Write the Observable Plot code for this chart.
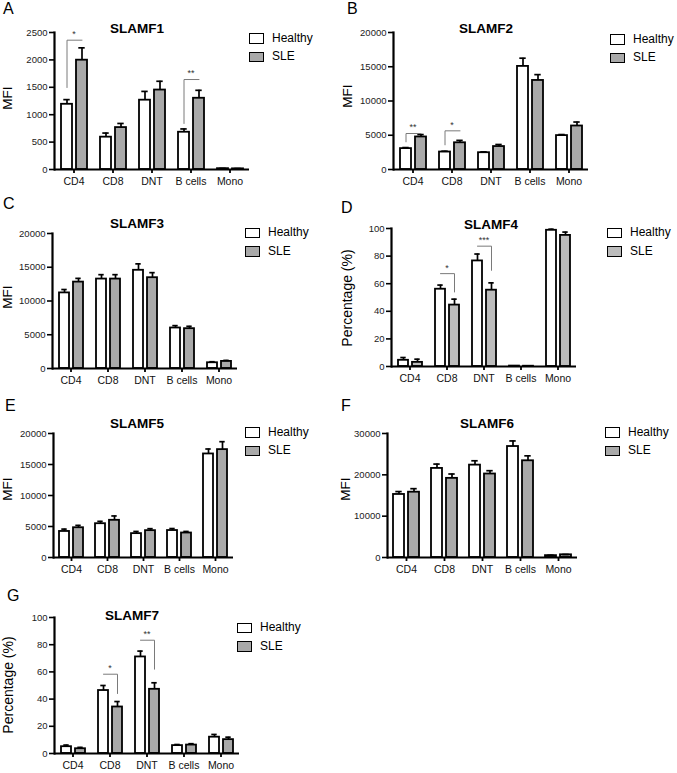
<!DOCTYPE html>
<html>
<head>
<meta charset="utf-8">
<script src="https://cdn.jsdelivr.net/npm/d3@7"></script>
<script src="https://cdn.jsdelivr.net/npm/@observablehq/plot@0.6"></script>
<style>
  html, body { margin: 0; padding: 0; background: #fff; }
  body { font-family: Arial, "Liberation Sans", Helvetica, sans-serif; color: #000; }
  #fig { position: relative; width: 677px; height: 773px; overflow: hidden; background: #fff; }
  .abs { position: absolute; white-space: nowrap; }
  .swatch { position: absolute; box-sizing: border-box; border: 1.8px solid #000; }
</style>
</head>
<body>
<div id="fig"></div>
<script>
// ---------- data ----------
const cells = ["CD4", "CD8", "DNT", "B cells", "Mono"];
const groups = ["Healthy", "SLE"];

// SLAMF1 (MFI)
const f1Healthy = [1190, 590, 1265, 680, 15];
const f1HealthyErr = [85, 75, 160, 60, 5];
const f1SLE = [1995, 765, 1450, 1300, 12];
const f1SLEErr = [225, 75, 160, 145, 5];
const f1Ticks = [0, 500, 1000, 1500, 2000, 2500];
const f1SigCells = ["CD4", "B cells"];
const f1SigLabels = ["*", "**"];
const f1SigSide = ["Healthy", "Healthy"];
const f1SigLow = [1496, 840];
const f1SigHigh = [2360, 1642];

// SLAMF2 (MFI)
const f2Healthy = [3050, 2550, 2450, 15050, 4950];
const f2HealthyErr = [150, 120, 120, 1200, 150];
const f2SLE = [4750, 3900, 3350, 13000, 6350];
const f2SLEErr = [350, 350, 300, 850, 580];
const f2Ticks = [0, 5000, 10000, 15000, 20000];
const f2SigCells = ["CD4", "CD8"];
const f2SigLabels = ["**", "*"];
const f2SigSide = ["Healthy", "Healthy"];
const f2SigLow = [4039, 3600];
const f2SigHigh = [5255, 5645];

// SLAMF3 (MFI)
const f3Healthy = [11200, 13250, 14550, 6000, 850];
const f3HealthyErr = [500, 650, 950, 350, 150];
const f3SLE = [12800, 13250, 13450, 5900, 1050];
const f3SLEErr = [550, 650, 750, 350, 150];
const f3Ticks = [0, 5000, 10000, 15000, 20000];

// SLAMF4 (percentage)
const f4Healthy = [4.5, 56, 76.5, 0.3, 98.7];
const f4HealthyErr = [2, 3, 5, 0.1, 0.8];
const f4SLE = [3, 44.5, 55.3, 0.2, 95];
const f4SLEErr = [2.3, 4.3, 5.3, 0.1, 2.4];
const f4Ticks = [0, 20, 40, 60, 80, 100];
const f4SigCells = ["CD8", "DNT"];
const f4SigLabels = ["*", "***"];
const f4SigSide = ["SLE", "SLE"];
const f4SigLow = [54, 69.7];
const f4SigHigh = [67.3, 87.2];

// SLAMF5 (MFI)
const f5Healthy = [4200, 5450, 3850, 4350, 16700];
const f5HealthyErr = [380, 380, 350, 320, 800];
const f5SLE = [4800, 6000, 4330, 3950, 17400];
const f5SLEErr = [380, 700, 320, 250, 1280];
const f5Ticks = [0, 5000, 10000, 15000, 20000];

// SLAMF6 (MFI)
const f6Healthy = [15250, 21550, 22350, 26850, 450];
const f6HealthyErr = [700, 1050, 1050, 1350, 80];
const f6SLE = [15800, 19150, 20200, 23400, 650];
const f6SLEErr = [850, 1050, 800, 1200, 80];
const f6Ticks = [0, 10000, 20000, 30000];

// SLAMF7 (percentage)
const f7Healthy = [5, 46.3, 71, 5.8, 12];
const f7HealthyErr = [1.2, 3.7, 4.3, 0.8, 2];
const f7SLE = [3.5, 34.2, 47.2, 6.2, 10.2];
const f7SLEErr = [1, 4, 4.8, 1, 1.8];
const f7Ticks = [0, 20, 40, 60, 80, 100];
const f7SigCells = ["CD8", "DNT"];
const f7SigLabels = ["*", "**"];
const f7SigSide = ["SLE", "SLE"];
const f7SigLow = [44.1, 62];
const f7SigHigh = [58.3, 83.3];

// ---------- layout ----------
const FONT = 'Arial, "Liberation Sans", Helvetica, sans-serif';
const panels = [
  {letter: "A", title: "SLAMF1", ylabel: "MFI", h: f1Healthy, he: f1HealthyErr, s: f1SLE, se: f1SLEErr, ticks: f1Ticks,
   sig: [f1SigCells, f1SigLabels, f1SigSide, f1SigLow, f1SigHigh],
   x: 0, y: 0, w: 338, axisX: 52, xEnd: 250, yTop: 32, y0: 169, gray: "#a9a9a9",
   letterPos: [3, 15], titlePos: [137, 33], ylabPos: [8, 98], legend: [249, 42]},
  {letter: "B", title: "SLAMF2", ylabel: "MFI", h: f2Healthy, he: f2HealthyErr, s: f2SLE, se: f2SLEErr, ticks: f2Ticks,
   sig: [f2SigCells, f2SigLabels, f2SigSide, f2SigLow, f2SigHigh],
   x: 340, y: 0, w: 337, axisX: 392, xEnd: 588, yTop: 32, y0: 169, gray: "#a9a9a9",
   letterPos: [347, 15], titlePos: [486, 33], ylabPos: [348, 96], legend: [610, 43]},
  {letter: "C", title: "SLAMF3", ylabel: "MFI", h: f3Healthy, he: f3HealthyErr, s: f3SLE, se: f3SLEErr, ticks: f3Ticks,
   sig: null,
   x: 0, y: 190, w: 338, axisX: 52, xEnd: 237, yTop: 233, y0: 368, gray: "#a9a9a9",
   letterPos: [3, 210], titlePos: [137, 228], ylabPos: [8, 297], legend: [245, 236.5]},
  {letter: "D", title: "SLAMF4", ylabel: "Percentage (%)", h: f4Healthy, he: f4HealthyErr, s: f4SLE, se: f4SLEErr, ticks: f4Ticks,
   sig: [f4SigCells, f4SigLabels, f4SigSide, f4SigLow, f4SigHigh],
   x: 340, y: 190, w: 337, axisX: 389, xEnd: 577, yTop: 228, y0: 366, gray: "#bcbcbc",
   letterPos: [341, 214], titlePos: [491, 229], ylabPos: [347, 298], legend: [607, 236.5]},
  {letter: "E", title: "SLAMF5", ylabel: "MFI", h: f5Healthy, he: f5HealthyErr, s: f5SLE, se: f5SLEErr, ticks: f5Ticks,
   sig: null,
   x: 0, y: 380, w: 338, axisX: 52, xEnd: 233, yTop: 433, y0: 557, gray: "#a9a9a9",
   letterPos: [5, 412], titlePos: [137, 428], ylabPos: [8, 489], legend: [245, 436]},
  {letter: "F", title: "SLAMF6", ylabel: "MFI", h: f6Healthy, he: f6HealthyErr, s: f6SLE, se: f6SLEErr, ticks: f6Ticks,
   sig: null,
   x: 340, y: 380, w: 337, axisX: 387, xEnd: 577, yTop: 433, y0: 557, gray: "#a9a9a9",
   letterPos: [341, 412], titlePos: [487, 428], ylabPos: [346, 489], legend: [605, 436]},
  {letter: "G", title: "SLAMF7", ylabel: "Percentage (%)", h: f7Healthy, he: f7HealthyErr, s: f7SLE, se: f7SLEErr, ticks: f7Ticks,
   sig: [f7SigCells, f7SigLabels, f7SigSide, f7SigLow, f7SigHigh],
   x: 0, y: 570, w: 338, axisX: 52, xEnd: 241, yTop: 617, y0: 753, gray: "#a9a9a9",
   letterPos: [7, 602], titlePos: [132, 620], ylabPos: [8, 685], legend: [237, 631.5]}
];

// ---------- builders ----------
function rows(h, he, s, se) {
  return cells.flatMap((c, i) => [
    {cell: c, group: "Healthy", value: h[i], err: he[i]},
    {cell: c, group: "SLE", value: s[i], err: se[i]}
  ]);
}
function sigRows(sig) {
  if (!sig) return [];
  const [sc, sl, side, lo, hi] = sig;
  return sc.map((c, i) => ({id: i, cell: c, label: sl[i], side: side[i], low: lo[i], high: hi[i]}));
}
function bracketPoints(sr) {
  return sr.flatMap(s => s.side === "Healthy"
    ? [{id: s.id, cell: s.cell, group: "Healthy", y: s.low},
       {id: s.id, cell: s.cell, group: "Healthy", y: s.high},
       {id: s.id, cell: s.cell, group: "SLE", y: s.high}]
    : [{id: s.id, cell: s.cell, group: "Healthy", y: s.high},
       {id: s.id, cell: s.cell, group: "SLE", y: s.high},
       {id: s.id, cell: s.cell, group: "SLE", y: s.low}]);
}

const fig = document.getElementById("fig");

function addText(txt, x, baseline, fs, extra = "", center = false) {
  const d = document.createElement("div");
  d.className = "abs";
  d.textContent = txt;
  d.style.cssText += `left:${x}px;top:${baseline - 0.846 * fs}px;font-size:${fs}px;line-height:${fs}px;${extra}` +
    (center ? "transform:translateX(-50%);" : "");
  fig.appendChild(d);
}
function addYLabel(txt, cx, cy, fs) {
  const d = document.createElement("div");
  d.className = "abs";
  d.textContent = txt;
  d.style.cssText += `left:${cx}px;top:${cy}px;font-size:${fs}px;line-height:${fs}px;transform:translate(-50%,-50%) rotate(-90deg);`;
  fig.appendChild(d);
}
function addLegend(rx, b1, gray) {
  [["Healthy", "#ffffff"], ["SLE", gray]].forEach(([name, col], i) => {
    const b = b1 + i * 18.5;
    const sw = document.createElement("div");
    sw.className = "swatch";
    sw.style.cssText += `left:${rx}px;top:${b - 9}px;width:15px;height:10.5px;background:${col};`;
    fig.appendChild(sw);
    addText(name, rx + 23, b, 12);
  });
}

function makeChart(p) {
  const W = p.w;
  const H = p.y0 - p.y + 26;
  const data = rows(p.h, p.he, p.s, p.se);
  const sr = sigRows(p.sig);
  const marks = [
    Plot.barY(data, {fx: "cell", x: "group", y: "value", fill: "group", stroke: "#000", strokeWidth: 1.8}),
    Plot.ruleX(data, {fx: "cell", x: "group", y1: "value", y2: d => d.value + d.err, stroke: "#000", strokeWidth: 1.7}),
    Plot.tickY(data, {fx: "cell", x: "group", y: d => d.value + d.err, stroke: "#000", strokeWidth: 1.7, insetLeft: 2.3, insetRight: 2.3}),
    Plot.ruleY([0], {stroke: "#000", strokeWidth: 2.2}),
    Plot.frame({anchor: "left", facetAnchor: "left", stroke: "#000", strokeWidth: 2.2}),
    Plot.axisY({ticks: p.ticks, tickFormat: d => String(d), tickSize: 5, tickPadding: 2, strokeWidth: 1.6,
                fontSize: 9.5, fill: "#222", label: null}),
    Plot.axisFx({anchor: "bottom", tickSize: 4, tickPadding: 4, strokeWidth: 1.8, fontSize: 10.5, fill: "#111", label: null})
  ];
  if (sr.length) {
    marks.push(Plot.line(bracketPoints(sr), {fx: "cell", x: "group", y: "y", z: "id", stroke: "#7a7a7a", strokeWidth: 1}));
    marks.push(Plot.text(sr, {fx: "cell", y: "high", text: "label", dy: -6, fontSize: 9, fill: "#333"}));
  }
  return Plot.plot({
    width: W, height: H,
    marginLeft: p.axisX - p.x,
    marginRight: p.x + W - p.xEnd,
    marginTop: p.yTop - p.y,
    marginBottom: H - (p.y0 - p.y),
    style: {background: "transparent", fontFamily: FONT, fontSize: "10.5px", overflow: "visible"},
    fx: {domain: cells, padding: 0, label: null},
    x: {domain: groups, paddingInner: 0.3, paddingOuter: 0.4, axis: null},
    y: {domain: [0, d3.max(p.ticks)], label: null},
    color: {domain: groups, range: ["#ffffff", p.gray]},
    marks
  });
}

for (const p of panels) {
  const svg = makeChart(p);
  svg.style.position = "absolute";
  svg.style.left = p.x + "px";
  svg.style.top = p.y + "px";
  svg.style.maxWidth = "none";
  fig.appendChild(svg);
  addText(p.letter, p.letterPos[0], p.letterPos[1], 16);
  addText(p.title, p.titlePos[0], p.titlePos[1], 13.5, "font-weight:bold;", true);
  addYLabel(p.ylabel, p.ylabPos[0], p.ylabPos[1], p.ylabel === "MFI" ? 13.5 : 14);
  addLegend(p.legend[0], p.legend[1], p.gray);
}
</script>
</body>
</html>
